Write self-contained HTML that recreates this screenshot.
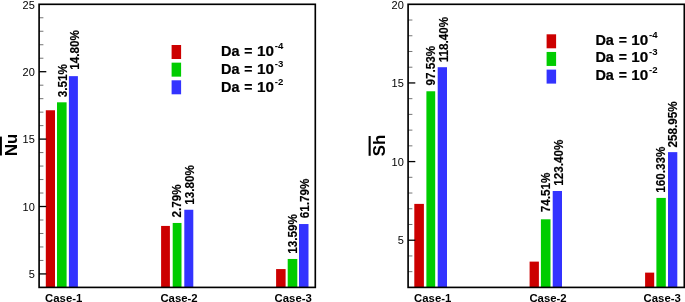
<!DOCTYPE html>
<html><head><meta charset="utf-8"><title>Bar charts</title>
<style>
html,body{margin:0;padding:0;background:#fff;}
body{width:685px;height:302px;overflow:hidden;}
svg{display:block;}
text{font-family:"Liberation Sans",Arial,Helvetica,sans-serif;fill:#000;}
.tk{font-size:11px;}
.pl{font-size:11.7px;font-weight:bold;stroke:#000;stroke-width:0.15px;}
.xl{font-size:11.2px;font-weight:bold;}
.lg{font-size:14px;font-weight:bold;stroke:#000;stroke-width:0.2px;}
.sp{font-size:8.6px;font-weight:bold;}
.yt{font-size:16.3px;font-weight:bold;}
</style></head><body>
<svg width="685" height="302" viewBox="0 0 685 302">
<rect width="685" height="302" fill="#fff"/>
<rect x="45.80" y="110.26" width="9.20" height="177.14" fill="#cc0000"/>
<rect x="57.00" y="102.31" width="9.60" height="185.09" fill="#00cc00"/>
<rect x="68.90" y="76.15" width="9.00" height="211.25" fill="#3333ff"/>
<rect x="161.10" y="225.93" width="8.80" height="61.47" fill="#cc0000"/>
<rect x="172.70" y="222.96" width="8.80" height="64.44" fill="#00cc00"/>
<rect x="184.30" y="209.75" width="9.00" height="77.65" fill="#3333ff"/>
<rect x="276.10" y="269.07" width="9.50" height="18.33" fill="#cc0000"/>
<rect x="287.70" y="258.96" width="9.60" height="28.44" fill="#00cc00"/>
<rect x="299.00" y="224.04" width="9.50" height="63.36" fill="#3333ff"/>
<text class="pl" transform="translate(66.80,97.17) rotate(-90) scale(1.0,1.03)">3.51%</text>
<text class="pl" transform="translate(78.60,69.74) rotate(-90) scale(1.0,1.03)">14.80%</text>
<text class="pl" transform="translate(180.80,217.61) rotate(-90) scale(1.0,1.03)">2.79%</text>
<text class="pl" transform="translate(193.80,204.64) rotate(-90) scale(1.0,1.03)">13.80%</text>
<text class="pl" transform="translate(296.80,253.84) rotate(-90) scale(1.0,1.03)">13.59%</text>
<text class="pl" transform="translate(309.10,218.13) rotate(-90) scale(1.0,1.03)">61.79%</text>
<line x1="39.1" x2="46.300000000000004" y1="273.92" y2="273.92" stroke="#000" stroke-width="1.3"/>
<line x1="39.1" x2="43.4" y1="260.44" y2="260.44" stroke="#000" stroke-width="0.55"/>
<line x1="39.1" x2="43.4" y1="246.96" y2="246.96" stroke="#000" stroke-width="0.55"/>
<line x1="39.1" x2="43.4" y1="233.48" y2="233.48" stroke="#000" stroke-width="0.55"/>
<line x1="39.1" x2="43.4" y1="220.00" y2="220.00" stroke="#000" stroke-width="0.55"/>
<line x1="39.1" x2="46.300000000000004" y1="206.51" y2="206.51" stroke="#000" stroke-width="1.3"/>
<line x1="39.1" x2="43.4" y1="193.03" y2="193.03" stroke="#000" stroke-width="0.55"/>
<line x1="39.1" x2="43.4" y1="179.55" y2="179.55" stroke="#000" stroke-width="0.55"/>
<line x1="39.1" x2="43.4" y1="166.07" y2="166.07" stroke="#000" stroke-width="0.55"/>
<line x1="39.1" x2="43.4" y1="152.59" y2="152.59" stroke="#000" stroke-width="0.55"/>
<line x1="39.1" x2="46.300000000000004" y1="139.11" y2="139.11" stroke="#000" stroke-width="1.3"/>
<line x1="39.1" x2="43.4" y1="125.63" y2="125.63" stroke="#000" stroke-width="0.55"/>
<line x1="39.1" x2="43.4" y1="112.15" y2="112.15" stroke="#000" stroke-width="0.55"/>
<line x1="39.1" x2="43.4" y1="98.67" y2="98.67" stroke="#000" stroke-width="0.55"/>
<line x1="39.1" x2="43.4" y1="85.19" y2="85.19" stroke="#000" stroke-width="0.55"/>
<line x1="39.1" x2="46.300000000000004" y1="71.70" y2="71.70" stroke="#000" stroke-width="1.3"/>
<line x1="39.1" x2="43.4" y1="58.22" y2="58.22" stroke="#000" stroke-width="0.55"/>
<line x1="39.1" x2="43.4" y1="44.74" y2="44.74" stroke="#000" stroke-width="0.55"/>
<line x1="39.1" x2="43.4" y1="31.26" y2="31.26" stroke="#000" stroke-width="0.55"/>
<line x1="39.1" x2="43.4" y1="17.78" y2="17.78" stroke="#000" stroke-width="0.55"/>
<text class="tk" transform="translate(34.80,278.12) scale(1.0,1.045)" text-anchor="end">5</text>
<text class="tk" transform="translate(34.80,210.71) scale(1.0,1.045)" text-anchor="end">10</text>
<text class="tk" transform="translate(34.80,143.31) scale(1.0,1.045)" text-anchor="end">15</text>
<text class="tk" transform="translate(34.80,75.90) scale(1.0,1.045)" text-anchor="end">20</text>
<text class="tk" transform="translate(34.80,8.50) scale(1.0,1.045)" text-anchor="end">25</text>
<rect x="39.1" y="4.3" width="276.20" height="283.10" fill="none" stroke="#000" stroke-width="1.65"/>
<text class="xl" transform="translate(63.70,301.50) scale(1.015,1.0)" text-anchor="middle">Case-1</text>
<text class="xl" transform="translate(179.00,301.50) scale(1.015,1.0)" text-anchor="middle">Case-2</text>
<text class="xl" transform="translate(293.20,301.50) scale(1.015,1.0)" text-anchor="middle">Case-3</text>
<rect x="171.60" y="45.00" width="9.5" height="14.0" fill="#cc0000"/>
<text class="lg" transform="translate(221.00,56.20) scale(1.035,1.0)">Da</text>
<text class="lg" transform="translate(244.30,56.20)">=</text>
<text class="lg" transform="translate(256.90,56.20) scale(1.09,1.0)">10</text>
<text class="sp" transform="translate(274.70,49.20) scale(1.12,1.0)">-4</text>
<rect x="171.60" y="62.65" width="9.5" height="14.0" fill="#00cc00"/>
<text class="lg" transform="translate(221.00,73.85) scale(1.035,1.0)">Da</text>
<text class="lg" transform="translate(244.30,73.85)">=</text>
<text class="lg" transform="translate(256.90,73.85) scale(1.09,1.0)">10</text>
<text class="sp" transform="translate(274.70,66.85) scale(1.12,1.0)">-3</text>
<rect x="171.60" y="80.30" width="9.5" height="14.0" fill="#3333ff"/>
<text class="lg" transform="translate(221.00,91.50) scale(1.035,1.0)">Da</text>
<text class="lg" transform="translate(244.30,91.50)">=</text>
<text class="lg" transform="translate(256.90,91.50) scale(1.09,1.0)">10</text>
<text class="sp" transform="translate(274.70,84.50) scale(1.12,1.0)">-2</text>
<text class="yt" transform="translate(17.00,156.10) rotate(-90) scale(1.02,1.0)">Nu</text><rect x="-1" y="136.6" width="2.9" height="18.9" fill="#000"/>
<rect x="414.30" y="203.89" width="9.60" height="83.51" fill="#cc0000"/>
<rect x="426.40" y="91.27" width="8.80" height="196.13" fill="#00cc00"/>
<rect x="437.70" y="67.21" width="9.30" height="220.19" fill="#3333ff"/>
<rect x="529.60" y="261.61" width="9.30" height="25.79" fill="#cc0000"/>
<rect x="540.90" y="219.30" width="9.60" height="68.10" fill="#00cc00"/>
<rect x="552.70" y="190.99" width="9.30" height="96.41" fill="#3333ff"/>
<rect x="645.10" y="272.62" width="9.10" height="14.78" fill="#cc0000"/>
<rect x="656.40" y="197.91" width="9.40" height="89.49" fill="#00cc00"/>
<rect x="668.00" y="152.14" width="9.30" height="135.26" fill="#3333ff"/>
<text class="pl" transform="translate(435.00,85.41) rotate(-90) scale(1.0,1.03)">97.53%</text>
<text class="pl" transform="translate(447.60,62.24) rotate(-90) scale(1.0,1.03)">118.40%</text>
<text class="pl" transform="translate(550.00,212.20) rotate(-90) scale(1.0,1.03)">74.51%</text>
<text class="pl" transform="translate(562.60,185.84) rotate(-90) scale(1.0,1.03)">123.40%</text>
<text class="pl" transform="translate(665.20,192.64) rotate(-90) scale(1.0,1.03)">160.33%</text>
<text class="pl" transform="translate(677.30,147.51) rotate(-90) scale(1.0,1.03)">258.95%</text>
<line x1="408.1" x2="412.40000000000003" y1="271.67" y2="271.67" stroke="#000" stroke-width="0.55"/>
<line x1="408.1" x2="412.40000000000003" y1="255.94" y2="255.94" stroke="#000" stroke-width="0.55"/>
<line x1="408.1" x2="415.3" y1="240.22" y2="240.22" stroke="#000" stroke-width="1.3"/>
<line x1="408.1" x2="412.40000000000003" y1="224.49" y2="224.49" stroke="#000" stroke-width="0.55"/>
<line x1="408.1" x2="412.40000000000003" y1="208.76" y2="208.76" stroke="#000" stroke-width="0.55"/>
<line x1="408.1" x2="412.40000000000003" y1="193.03" y2="193.03" stroke="#000" stroke-width="0.55"/>
<line x1="408.1" x2="412.40000000000003" y1="177.31" y2="177.31" stroke="#000" stroke-width="0.55"/>
<line x1="408.1" x2="415.3" y1="161.58" y2="161.58" stroke="#000" stroke-width="1.3"/>
<line x1="408.1" x2="412.40000000000003" y1="145.85" y2="145.85" stroke="#000" stroke-width="0.55"/>
<line x1="408.1" x2="412.40000000000003" y1="130.12" y2="130.12" stroke="#000" stroke-width="0.55"/>
<line x1="408.1" x2="412.40000000000003" y1="114.39" y2="114.39" stroke="#000" stroke-width="0.55"/>
<line x1="408.1" x2="412.40000000000003" y1="98.67" y2="98.67" stroke="#000" stroke-width="0.55"/>
<line x1="408.1" x2="415.3" y1="82.94" y2="82.94" stroke="#000" stroke-width="1.3"/>
<line x1="408.1" x2="412.40000000000003" y1="67.21" y2="67.21" stroke="#000" stroke-width="0.55"/>
<line x1="408.1" x2="412.40000000000003" y1="51.48" y2="51.48" stroke="#000" stroke-width="0.55"/>
<line x1="408.1" x2="412.40000000000003" y1="35.76" y2="35.76" stroke="#000" stroke-width="0.55"/>
<line x1="408.1" x2="412.40000000000003" y1="20.03" y2="20.03" stroke="#000" stroke-width="0.55"/>
<text class="tk" transform="translate(403.80,244.42) scale(1.0,1.045)" text-anchor="end">5</text>
<text class="tk" transform="translate(403.80,165.78) scale(1.0,1.045)" text-anchor="end">10</text>
<text class="tk" transform="translate(403.80,87.14) scale(1.0,1.045)" text-anchor="end">15</text>
<text class="tk" transform="translate(403.80,8.50) scale(1.0,1.045)" text-anchor="end">20</text>
<rect x="408.1" y="4.3" width="276.20" height="283.10" fill="none" stroke="#000" stroke-width="1.65"/>
<text class="xl" transform="translate(432.70,301.50) scale(1.015,1.0)" text-anchor="middle">Case-1</text>
<text class="xl" transform="translate(548.00,301.50) scale(1.015,1.0)" text-anchor="middle">Case-2</text>
<text class="xl" transform="translate(662.20,301.50) scale(1.015,1.0)" text-anchor="middle">Case-3</text>
<rect x="546.60" y="34.30" width="9.5" height="14.0" fill="#cc0000"/>
<text class="lg" transform="translate(595.40,44.80) scale(1.035,1.0)">Da</text>
<text class="lg" transform="translate(618.70,44.80)">=</text>
<text class="lg" transform="translate(631.30,44.80) scale(1.09,1.0)">10</text>
<text class="sp" transform="translate(649.10,37.80) scale(1.12,1.0)">-4</text>
<rect x="546.60" y="51.95" width="9.5" height="14.0" fill="#00cc00"/>
<text class="lg" transform="translate(595.40,62.45) scale(1.035,1.0)">Da</text>
<text class="lg" transform="translate(618.70,62.45)">=</text>
<text class="lg" transform="translate(631.30,62.45) scale(1.09,1.0)">10</text>
<text class="sp" transform="translate(649.10,55.45) scale(1.12,1.0)">-3</text>
<rect x="546.60" y="69.60" width="9.5" height="14.0" fill="#3333ff"/>
<text class="lg" transform="translate(595.40,80.10) scale(1.035,1.0)">Da</text>
<text class="lg" transform="translate(618.70,80.10)">=</text>
<text class="lg" transform="translate(631.30,80.10) scale(1.09,1.0)">10</text>
<text class="sp" transform="translate(649.10,73.10) scale(1.12,1.0)">-2</text>
<text class="yt" transform="translate(385.40,156.30) rotate(-90) scale(1.03,1.0)">Sh</text><rect x="368.6" y="136" width="2.1" height="19.8" fill="#000"/>
</svg>
</body></html>
